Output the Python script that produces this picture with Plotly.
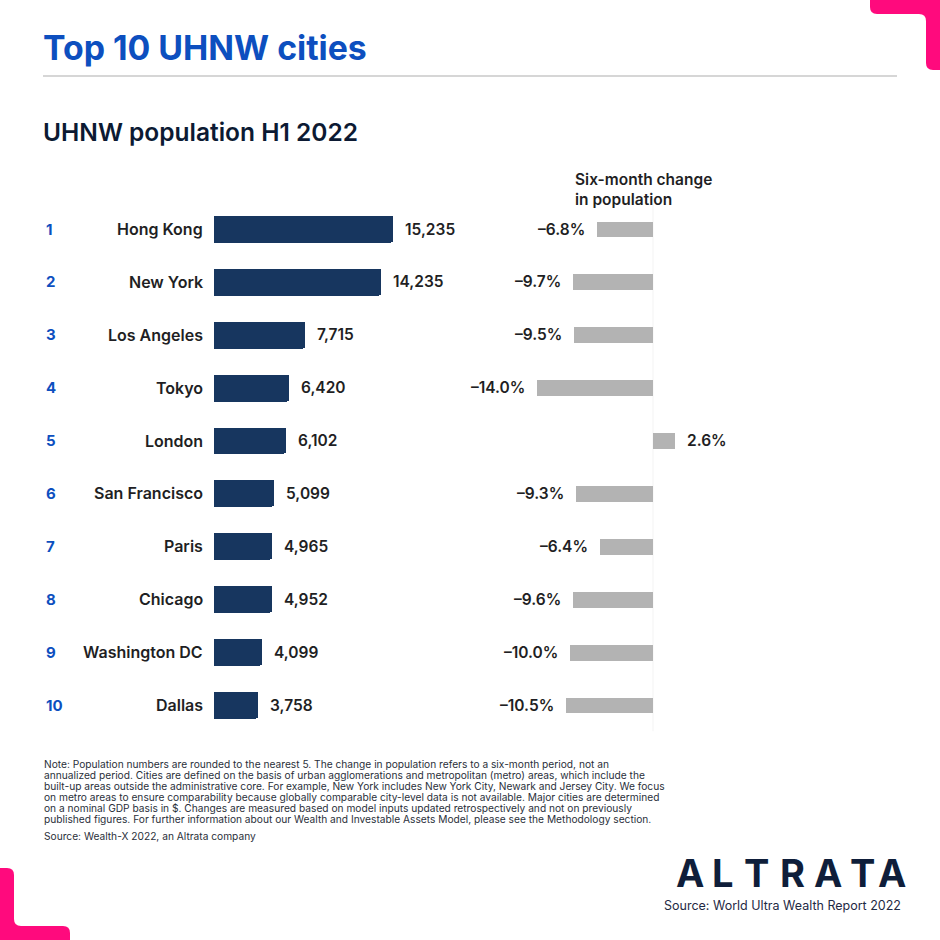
import plotly.graph_objects as go

ranks = [1, 2, 3, 4, 5, 6, 7, 8, 9, 10]
cities = ["Hong Kong", "New York", "Los Angeles", "Tokyo", "London",
          "San Francisco", "Paris", "Chicago", "Washington DC", "Dallas"]
population = [15235, 14235, 7715, 6420, 6102, 5099, 4965, 4952, 4099, 3758]
change_pct = [-6.8, -9.7, -9.5, -14.0, 2.6, -9.3, -6.4, -9.6, -10.0, -10.5]

title = "Top 10 UHNW cities"
subtitle = "UHNW population H1 2022"
right_header = ["Six-month change", "in population"]
note_lines = [
    "Note: Population numbers are rounded to the nearest 5. The change in population refers to a six-month period, not an",
    "annualized period. Cities are defined on the basis of urban agglomerations and metropolitan (metro) areas, which include the",
    "built-up areas outside the administrative core. For example, New York includes New York City, Newark and Jersey City. We focus",
    "on metro areas to ensure comparability because globally comparable city-level data is not available. Major cities are determined",
    "on a nominal GDP basis in $. Changes are measured based on model inputs updated retrospectively and not on previously",
    "published figures. For further information about our Wealth and Investable Assets Model, please see the Methodology section.",
]
source_note = "Source: Wealth-X 2022, an Altrata company"
logo_letters = ["A", "L", "T", "R", "A", "T", "A"]
logo_x = [690, 723, 756, 792, 828, 862, 892]
source_report = "Source: World Ultra Wealth Report 2022"

W = H = 940
NAVY = "#17365f"
GRAY = "#b3b3b3"
BLUE = "#0d4fbf"
TXT = "#1f1f24"
PINK = "#ff0a7d"
FONT = "Inter"

def px(x):
    return x / W

def py(y):
    return 1 - y / H

fig = go.Figure()

fig.add_trace(go.Bar(
    x=population, y=ranks, orientation="h", xaxis="x", yaxis="y",
    marker=dict(color=NAVY, line=dict(width=0), cornerradius=2),
    width=0.51, hoverinfo="skip", showlegend=False,
))
fig.add_trace(go.Bar(
    x=change_pct, y=ranks, orientation="h", xaxis="x2", yaxis="y",
    marker=dict(color=GRAY, line=dict(width=0)),
    width=0.3, hoverinfo="skip", showlegend=False,
))

# left axis: x=0 at 214px, 15235 at 393px
l0, l1 = 214, 514
lscale = (393 - 214) / 15235
# right axis: zero at 653px, 8.29 px per %
r0, r1 = 500, 780
rscale = 8.29
zero_r = 653

y_top, y_bot = 229 - 26.45, 705 + 26.45

fig.update_layout(
    width=W, height=H,
    margin=dict(l=0, r=0, t=0, b=0),
    paper_bgcolor="white", plot_bgcolor="rgba(0,0,0,0)",
    font=dict(family=FONT, color=TXT),
    bargap=0,
    xaxis=dict(domain=[px(l0), px(l1)], range=[0, (l1 - l0) / lscale],
               visible=False, fixedrange=True),
    xaxis2=dict(domain=[px(r0), px(r1)],
                range=[-(zero_r - r0) / rscale, (r1 - zero_r) / rscale],
                visible=False, fixedrange=True, anchor="y"),
    yaxis=dict(domain=[py(y_bot), py(y_top)], range=[10.5, 0.5],
               visible=False, fixedrange=True),
)

ann = []
for r, c, p, ch in zip(ranks, cities, population, change_pct):
    ann.append(dict(x=px(44), xref="paper", y=r, yref="y", text=str(r),
                    xanchor="left", yanchor="middle", showarrow=False,
                    font=dict(size=15, color=BLUE, weight=700)))
    ann.append(dict(x=px(205), xref="paper", y=r, yref="y", text=c,
                    xanchor="right", yanchor="middle", showarrow=False,
                    font=dict(size=16, color=TXT, weight=600)))
    ann.append(dict(x=p, xref="x", y=r, yref="y", text=f"{p:,}",
                    xanchor="left", yanchor="middle", showarrow=False,
                    xshift=10, font=dict(size=15.5, color=TXT, weight=600)))
    if ch < 0:
        ann.append(dict(x=ch, xref="x2", y=r, yref="y", text=f"{ch:.1f}%".replace("-", "\u2013"),
                        xanchor="right", yanchor="middle", showarrow=False,
                        xshift=-10, font=dict(size=15.5, color=TXT, weight=600)))
    else:
        ann.append(dict(x=ch, xref="x2", y=r, yref="y", text=f"{ch:.1f}%",
                        xanchor="left", yanchor="middle", showarrow=False,
                        xshift=10, font=dict(size=15.5, color=TXT, weight=600)))

ann.append(dict(x=px(41), y=py(48), xref="paper", yref="paper", text=title,
                xanchor="left", yanchor="middle", showarrow=False,
                font=dict(size=33.8, color=BLUE, weight=700)))
ann.append(dict(x=px(41), y=py(132), xref="paper", yref="paper", text=subtitle,
                xanchor="left", yanchor="middle", showarrow=False,
                font=dict(size=24.5, color="#0c1a33", weight=600)))
ann.append(dict(x=px(573), y=py(189), xref="paper", yref="paper",
                text="<br>".join(right_header), align="left",
                xanchor="left", yanchor="middle", showarrow=False,
                font=dict(size=15.5, color=TXT, weight=600)))
for i, line in enumerate(note_lines):
    ann.append(dict(x=px(42), y=py(764 + 11 * i), xref="paper", yref="paper", text=line,
                    xanchor="left", yanchor="middle", showarrow=False,
                    font=dict(size=10.2, color="#2a2f3a")))
ann.append(dict(x=px(42), y=py(836), xref="paper", yref="paper", text=source_note,
                xanchor="left", yanchor="middle", showarrow=False,
                font=dict(size=10.2, color="#2a2f3a")))
for L, lx in zip(logo_letters, logo_x):
    ann.append(dict(x=px(lx), y=py(873), xref="paper", yref="paper", text=L,
                    xanchor="center", yanchor="middle", showarrow=False,
                    font=dict(size=38, color="#0f1e3a", weight=700)))
ann.append(dict(x=px(903), y=py(905), xref="paper", yref="paper", text=source_report,
                xanchor="right", yanchor="middle", showarrow=False,
                font=dict(size=12.5, color="#1f2a44")))
fig.update_layout(annotations=ann)

def pth(pts):
    out = []
    for cmd in pts:
        op = cmd[0]
        coords = cmd[1:]
        s = " ".join(f"{px(coords[k])} {py(coords[k + 1])}" for k in range(0, len(coords), 2))
        out.append(f"{op} {s}")
    return " ".join(out) + " Z"

shapes = [
    dict(type="line", xref="paper", yref="paper", x0=px(43), x1=px(897),
         y0=py(76), y1=py(76), line=dict(color="#c9c9c9", width=1.5)),
    dict(type="line", xref="x2", yref="y", x0=0, x1=0, y0=0.5, y1=10.5,
         line=dict(color="#f3f3f3", width=1), layer="below"),
]
top_right = [("M", 870, -2), ("L", 942, -2), ("L", 942, 70), ("L", 933, 70),
             ("Q", 926, 70, 926, 63), ("L", 926, 21), ("Q", 926, 14, 919, 14),
             ("L", 877, 14), ("Q", 870, 14, 870, 7)]
bottom_left = [("M", -2, 942), ("L", -2, 868), ("L", 7, 868),
               ("Q", 14, 868, 14, 875), ("L", 14, 919), ("Q", 14, 926, 21, 926),
               ("L", 63, 926), ("Q", 70, 926, 70, 933), ("L", 70, 942)]
for p in (top_right, bottom_left):
    shapes.append(dict(type="path", xref="paper", yref="paper", path=pth(p),
                       fillcolor=PINK, line=dict(width=0)))
fig.update_layout(shapes=shapes)

fig.write_html("out.html", config={"displayModeBar": False},
               post_script="document.body.style.margin='0';document.body.style.overflow='hidden';")
